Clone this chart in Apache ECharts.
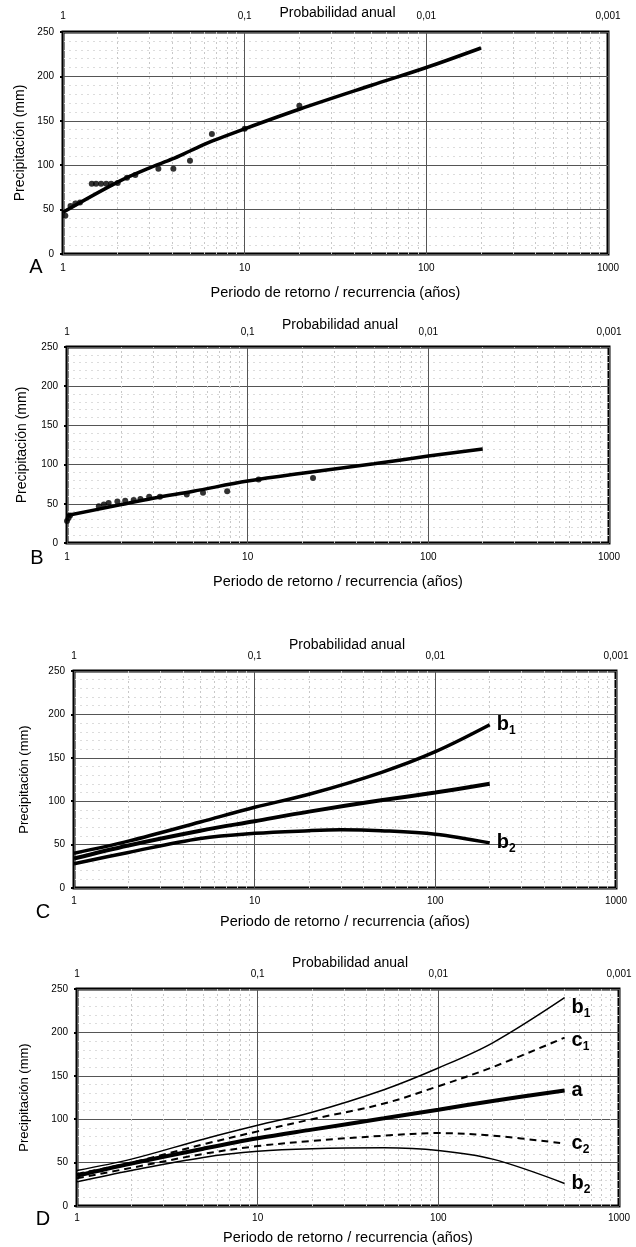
<!DOCTYPE html>
<html><head><meta charset="utf-8">
<script src="https://cdn.jsdelivr.net/npm/echarts@6/dist/echarts.min.js"></script>
<style>html,body{margin:0;padding:0;background:#fff}#c{width:636px;height:1247px}</style>
</head><body><div id="c"></div>
<script>
// ---- tick labels ----
const bottomTickLabels = ['1', '10', '100', '1000'];
const topTickLabels = ['1', '0,1', '0,01', '0,001'];
const minorGridX = [2,3,4,5,6,7,8,9,20,30,40,50,60,70,80,90,200,300,400,500,600,700,800,900];
const panelLetters = ['A', 'B', 'C', 'D'];
const xTitle = 'Periodo de retorno / recurrencia (años)';
const topTitle = 'Probabilidad anual';
const yTitle = 'Precipitación (mm)';

// ---- Panel A ----
const obsA = [[1.03,43],[1.1,54],[1.17,57],[1.24,58],[1.44,79],[1.52,79],[1.62,79],[1.73,79],[1.84,79],[2.0,80],[2.25,86],[2.5,89],[3.35,96],[4.05,96],[5.0,105],[6.6,135],[10,141],[20,167]];
const fitA = [[1,47],[2,81],[3,97],[4,107],[5,116],[6.6,127],[10,141],[20,163],[50,190],[100,210],[200,232]];

// ---- Panel B ----
const obsB = [[1.0,28],[1.02,32],[1.04,35],[1.5,47],[1.6,49],[1.7,51],[1.9,53],[2.1,54],[2.34,55],[2.55,56],[2.85,59],[3.27,59],[4.6,62],[5.66,64],[7.7,66],[11.5,81],[23,83]];
const fitB = [[1,35],[2,49],[3,57],[5,66],[10,79],[20,89],[50,101],[100,111],[200,120]];

// ---- Panel C ----
const cB1 = [[1,40],[2,54],[5,76],[10,93],[20,108],[50,133],[100,157],[200,188]];
const cA  = [[1,34],[2,49],[5,66],[10,77],[20,88],[50,101],[100,110],[200,120]];
const cB2 = [[1,28],[2,41],[5,57],[10,63],[20,66],[30,67],[50,66],[100,62],[200,52]];

// ---- Panel D ----
const dB1 = [[1,41],[2,54],[5,77],[10,93],[20,108],[50,134],[100,159],[200,188],[500,240]];
const dC1 = [[1,37],[2,50],[5,71],[10,86],[20,100],[50,118],[100,138],[200,160],[500,194]];
const dA  = [[1,35],[2,49],[5,66],[10,78],[20,88],[50,101],[100,111],[200,121],[500,133]];
const dC2 = [[1,32],[2,44],[5,60],[10,69],[20,75],[50,81],[100,84],[200,81],[500,72]];
const dB2 = [[1,28],[2,41],[5,56],[10,63],[20,66],[50,67],[100,64],[200,54],[500,26]];

const FONT = 'Liberation Sans';
const grids = [
  {left:63, top:32, width:545, height:222},
  {left:67, top:347, width:542, height:196},
  {left:74, top:671, width:542, height:217},
  {left:77, top:989, width:542, height:217}
];
// text layout per panel: [xTitleGap, topTitleGap, yTitleOffset, yTitleSize, letterDx, letterDy, topMargin, bottomMargin]
const layout = [
  [39, 19, 43, 14, 27, 13, 11, 9],
  [39, 22, 45, 14, 30, 15, 10, 9],
  [34, 26, 50, 13, 31, 24, 10, 8],
  [32, 26, 53, 13, 34, 13, 10, 7]
];
const xAxes = [], yAxes = [], series = [], graphics = [];
const idx = v => Math.round(Math.log10(v));

grids.forEach((g, i) => {
  const L = layout[i];
  xAxes.push({type:'log', logBase:10, gridIndex:i, min:1, max:1000, position:'bottom',
    axisLine:{show:false}, axisTick:{show:false},
    axisLabel:{fontSize:10, color:'#000', margin:L[7], fontFamily:FONT, formatter:v => bottomTickLabels[idx(v)] || ''},
    splitLine:{show:true, lineStyle:{color:'#555', width:1}}});
  xAxes.push({type:'log', logBase:10, gridIndex:i, min:1, max:1000, position:'top',
    axisLine:{show:false}, axisTick:{show:false},
    axisLabel:{fontSize:10, color:'#000', margin:L[6], fontFamily:FONT, formatter:v => topTickLabels[idx(v)] || ''},
    splitLine:{show:false}});
  yAxes.push({type:'value', gridIndex:i, min:0, max:250, interval:50,
    axisLine:{show:false}, axisTick:{show:true, length:3, lineStyle:{color:'#000', width:2}},
    axisLabel:{fontSize:10, color:'#000', margin:9, fontFamily:FONT},
    splitLine:{show:true, lineStyle:{color:'#555', width:1}},
    minorTick:{show:false, splitNumber:5},
    minorSplitLine:{show:true, lineStyle:{color:'#dcdcdc', type:[2,4], width:1}}});
  // minor vertical grid lines
  series.push({type:'line', xAxisIndex:2*i, yAxisIndex:i, data:[], silent:true,
    markLine:{silent:true, symbol:['none','none'], label:{show:false},
      lineStyle:{color:'#c8c8c8', type:[2,3], width:1},
      data: minorGridX.map(v => ({xAxis:v}))}});
  const cx = g.left + g.width/2, cy = g.top + g.height/2;
  graphics.push({type:'text', x:cx, y:g.top + g.height + L[0], style:{text:xTitle, fontSize:14.5, fontFamily:FONT, fill:'#000', align:'center', verticalAlign:'middle'}});
  graphics.push({type:'text', x:cx + 2, y:g.top - L[1], style:{text:topTitle, fontSize:14, fontFamily:FONT, fill:'#000', align:'center', verticalAlign:'middle'}});
  graphics.push({type:'text', x:g.left - L[2], y:cy, rotation:Math.PI/2, style:{text:yTitle, fontSize:L[3], fontFamily:FONT, fill:'#000', align:'center', verticalAlign:'middle'}});
  graphics.push({type:'text', x:g.left - L[4], y:g.top + g.height + L[5], style:{text:panelLetters[i], fontSize:20, fontFamily:FONT, fill:'#000', align:'center', verticalAlign:'middle'}});
});

function lineS(i, data, width, type, label, dy) {
  const s = {type:'line', xAxisIndex:2*i, yAxisIndex:i, data:data, smooth:0.35, symbol:'none',
    lineStyle:{color:'#000', width:width, type:type || 'solid'}, z:5};
  if (label) {
    s.endLabel = {show:true, distance:7, color:'#000', offset:[0, dy || 0],
      formatter: () => '{m|' + label[0] + '}' + (label.length > 1 ? '{s|' + label.slice(1) + '}' : ''),
      rich:{m:{fontSize:20, fontWeight:'bold', fontFamily:FONT, color:'#000'},
            s:{fontSize:12, fontWeight:'bold', fontFamily:FONT, color:'#000', padding:[12,0,0,0]}}};
  }
  return s;
}
function scatS(i, data) {
  return {type:'scatter', xAxisIndex:2*i, yAxisIndex:i, data:data, symbol:'circle', symbolSize:6,
    itemStyle:{color:'#000'}, z:6};
}

series.push(lineS(0, fitA, 3.5), scatS(0, obsA));
series.push(lineS(1, fitB, 3.5), scatS(1, obsB));
series.push(lineS(2, cB1, 3.5, 'solid', 'b1'), lineS(2, cA, 4), lineS(2, cB2, 3.5, 'solid', 'b2'));
series.push(lineS(3, dB1, 1.5, 'solid', 'b1', 10), lineS(3, dC1, 2, [7,5], 'c1', 3), lineS(3, dA, 4, 'solid', 'a'),
            lineS(3, dC2, 2, [7,5], 'c2'), lineS(3, dB2, 1.5, 'solid', 'b2'));

const chart = echarts.init(document.getElementById('c'), null, {renderer:'canvas'});
chart.setOption({
  animation:false,
  backgroundColor:'#fff',
  grid: grids.map(g => Object.assign({show:true, borderColor:'#000', borderWidth:3, backgroundColor:'transparent'}, g)),
  xAxis: xAxes,
  yAxis: yAxes,
  series: series,
  graphic: graphics
});
</script></body></html>
